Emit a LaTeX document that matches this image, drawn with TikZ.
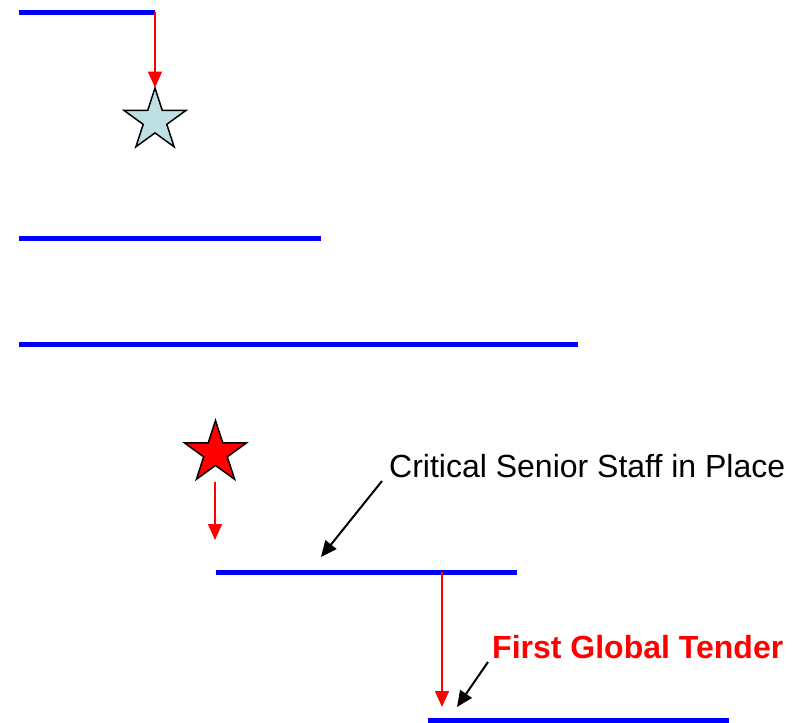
\documentclass[tikz,border=0pt]{standalone}
\usepackage{fontspec}
\setmainfont{Liberation Sans}
\usetikzlibrary{shapes.geometric,arrows.meta}
\definecolor{lightstar}{RGB}{190,224,227}
\tikzset{
  bar/.style={draw=blue,line width=5pt},
  redarrow/.style={draw=red,line width=1.5pt,-{Triangle[width=14pt,length=16pt]}},
  blackarrow/.style={draw=black,line width=2pt,-{Triangle[width=14pt,length=16pt]}},
  starshape/.style={star,star points=5,star point ratio=2.618,draw=black,line width=1.5pt,inner sep=0pt,minimum size=65pt},
  lbl/.style={font=\fontsize{32}{38}\selectfont,inner sep=0pt,anchor=base west}
}
\begin{document}
\begin{tikzpicture}[x=1pt,y=-1pt]
\useasboundingbox (0,0) rectangle (804,723);
% bars
\coordinate (b1a) at (19,12);  \coordinate (b1b) at (155,12);
\coordinate (b2a) at (19,238); \coordinate (b2b) at (321,238);
\coordinate (b3a) at (19,344); \coordinate (b3b) at (578,344);
\coordinate (b4a) at (216,572); \coordinate (b4b) at (517,572);
\coordinate (b5a) at (428,720); \coordinate (b5b) at (729,720);
\draw[bar] (b1a) -- (b1b);
\draw[bar] (b2a) -- (b2b);
\draw[bar] (b3a) -- (b3b);
\draw[bar] (b4a) -- (b4b);
\draw[bar] (b5a) -- (b5b);
% stars
\node[starshape,fill=lightstar] (s1) at (155,120.5) {};
\node[starshape,fill=red] (s2) at (215.5,453) {};
% red arrows
\draw[redarrow,shorten >=-2pt] (b1b) -- (s1.outer point 1);
\coordinate (a2s) at (215,482); \coordinate (a2e) at (215,540);
\draw[redarrow] (a2s) -- (a2e);
\coordinate (a3s) at (442,572); \coordinate (a3e) at (442,707);
\draw[redarrow] (a3s) -- (a3e);
% labels
\node[lbl] (t1) at (389,477) {Critical Senior Staff in Place};
\node[lbl,text=red,font=\fontsize{32}{38}\selectfont\bfseries] (t2) at (492,658) {First Global Tender};
\coordinate (c1s) at (382,481); \coordinate (c1e) at (321,557);
\draw[blackarrow] (c1s) -- (c1e);
\coordinate (c2s) at (488,662); \coordinate (c2e) at (457,707);
\draw[blackarrow] (c2s) -- (c2e);
\end{tikzpicture}
\end{document}
